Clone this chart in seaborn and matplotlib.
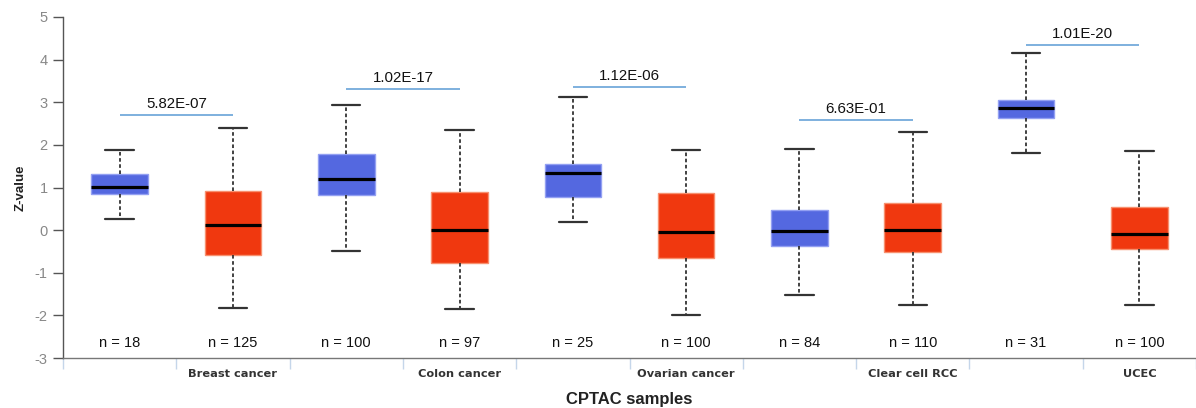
import numpy as np
import pandas as pd
import matplotlib
matplotlib.use("Agg")
import matplotlib.pyplot as plt
import seaborn as sns

# ---------------- data ----------------
cancers = ["Breast cancer", "Colon cancer", "Ovarian cancer", "Clear cell RCC", "UCEC"]
groups = ["Normal", "Tumor"]
n_counts = [18, 125, 100, 97, 25, 100, 84, 110, 31, 100]
whisker_low = [0.25, -1.83, -0.48, -1.85, 0.19, -2.00, -1.52, -1.75, 1.82, -1.75]
q1 = [0.85, -0.58, 0.82, -0.76, 0.77, -0.65, -0.38, -0.51, 2.64, -0.44]
median = [1.02, 0.11, 1.21, 0.01, 1.35, -0.05, -0.03, 0.00, 2.87, -0.08]
q3 = [1.31, 0.91, 1.78, 0.90, 1.56, 0.875, 0.475, 0.63, 3.05, 0.54]
whisker_high = [1.88, 2.39, 2.94, 2.34, 3.12, 1.89, 1.91, 2.31, 4.15, 1.86]
p_values = ["5.82E-07", "1.02E-17", "1.12E-06", "6.63E-01", "1.01E-20"]
p_line_y = [2.69, 3.30, 3.36, 2.59, 4.34]
y_ticks = [-3, -2, -1, 0, 1, 2, 3, 4, 5]

# long-form table: the five-number summary of each box
rows = []
for i in range(len(n_counts)):
    for v in (whisker_low[i], q1[i], median[i], q3[i], whisker_high[i]):
        rows.append({"slot": i, "value": v})
df = pd.DataFrame(rows)

blue = "#5468e0"
red = "#f0380f"
blue_edge = "#93a0f2"
red_edge = "#f7906f"
palette = {i: (blue if i % 2 == 0 else red) for i in range(len(n_counts))}

# ---------------- figure ----------------
sns.set_style("white")
plt.rcParams["font.family"] = ["Liberation Sans", "DejaVu Sans"]
plt.rcParams["axes.unicode_minus"] = False

fig = plt.figure(figsize=(11.96, 4.08), dpi=100)
ax = fig.add_axes([63 / 1196, 50 / 408, 1133 / 1196, 341 / 408])

sns.boxplot(
    data=df, x="slot", y="value", hue="slot", palette=palette, legend=False,
    order=list(range(len(n_counts))), whis=(0, 100), width=0.5, ax=ax,
    saturation=1, linewidth=1.0,
    medianprops=dict(color="black", linewidth=2.3),
    whiskerprops=dict(color="#333333", linewidth=1.3, linestyle=(0, (2, 1.4))),
    capprops=dict(color="#333333", linewidth=1.6),
    boxprops=dict(linewidth=1.0),
    showfliers=False,
)

# lighter box outlines
for k, patch in enumerate([p for p in ax.patches]):
    patch.set_edgecolor(blue_edge if k % 2 == 0 else red_edge)

ax.set_xlim(-0.5, len(n_counts) - 0.5)
ax.set_ylim(-3, 5)
ax.set_yticks(y_ticks)
ax.tick_params(axis="y", colors="#555555", labelcolor="#888888", labelsize=10.5,
               length=7, width=1, direction="out", left=True, pad=4)

# x ticks: marks at slot boundaries, labels under tumour slots
boundaries = np.arange(-0.5, len(n_counts), 1.0)
ax.set_xticks(boundaries)
ax.set_xticklabels([""] * len(boundaries))
ax.tick_params(axis="x", which="major", bottom=True, length=8, width=1,
               color="#c5d6ea", direction="out")
ax.set_xticks([2 * i + 1 for i in range(len(cancers))], minor=True)
ax.set_xticklabels(cancers, minor=True, fontfamily="DejaVu Sans",
                   fontweight="bold", fontsize=8.2, color="#333333")
ax.tick_params(axis="x", which="minor", length=0, pad=8)

for side in ("top", "right"):
    ax.spines[side].set_visible(False)
ax.spines["left"].set_color("#555555")
ax.spines["bottom"].set_color("#777777")
ax.spines["left"].set_linewidth(1.0)
ax.spines["bottom"].set_linewidth(1.0)

ax.set_xlabel("CPTAC samples", fontsize=12, fontweight="bold", color="#222222", labelpad=9)
ax.set_ylabel("Z-value", fontsize=9.5, fontweight="bold", color="#222222", labelpad=6)

# sample sizes
for i, n in enumerate(n_counts):
    ax.text(i, -2.65, f"n = {n}", ha="center", va="center", fontsize=10.5, color="#111111")

# p-value brackets
for j, (p, yl) in enumerate(zip(p_values, p_line_y)):
    x0, x1 = 2 * j, 2 * j + 1
    ax.plot([x0, x1], [yl, yl], color="#5b9bd5", linewidth=1.1, solid_capstyle="butt")
    ax.annotate(p, xy=((x0 + x1) / 2, yl), xytext=(0, 3), textcoords="offset points",
                ha="center", va="bottom", fontsize=10.8, color="#111111")

fig.savefig("out.png", dpi=100)
